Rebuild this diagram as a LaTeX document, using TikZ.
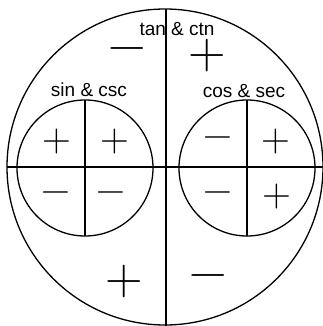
\documentclass[tikz,border=0pt]{standalone}
\usepackage{fontspec}
\setsansfont{Liberation Sans}
\begin{document}
\begin{tikzpicture}[x=1pt,y=-1pt,
  ln/.style={line width=1.3pt},
  lbl/.style={font=\sffamily\fontsize{19}{20}\selectfont, inner sep=0pt},
  bigsign/.style={inner sep=0pt, font=\rmfamily\fontsize{52}{52}\selectfont},
  smallsign/.style={inner sep=0pt, font=\rmfamily\fontsize{40}{40}\selectfont}]
\useasboundingbox (0,0) rectangle (323,326);
% big circle
\coordinate (C) at (165,167);
\draw[ln] (C) circle[radius=158];
\coordinate (top) at (166,9);
\coordinate (bot) at (166,326);
\coordinate (lft) at (7,167);
\coordinate (rgt) at (323,167);
\draw[ln] (top) -- (bot);
\draw[ln] (lft) -- (rgt);
% small circles
\coordinate (S) at (85,168);
\coordinate (K) at (247,168);
\draw[ln] (S) circle[radius=68];
\draw[ln] (K) circle[radius=68];
\draw[ln] ([yshift=-68pt]S) -- ([yshift=68pt]S);
\draw[ln] ([yshift=-68pt]K) -- ([yshift=68pt]K);
% labels
\node[lbl] (tan) at (177,29) {tan \& ctn};
\node[lbl] (sin) at (89,90) {sin \& csc};
\node[lbl] (cos) at (244,91) {cos \& sec};
% big signs
\node[bigsign] (q2) at (127,55) {−};
\node[bigsign] (q1) at (207,56) {+};
\node[bigsign] (q3) at (124,282) {+};
\node[bigsign] (q4) at (208,282) {−};
% sin signs
\node[smallsign] (s2) at (57,142) {+};
\node[smallsign] (s1) at (115,142) {+};
\node[smallsign] (s3) at (56,197) {−};
\node[smallsign] (s4) at (111,197) {−};
% cos signs
\node[smallsign] (c2) at (218,142) {−};
\node[smallsign] (c1) at (276,142) {+};
\node[smallsign] (c3) at (218,197) {−};
\node[smallsign] (c4) at (277,197) {+};
\end{tikzpicture}
\end{document}
